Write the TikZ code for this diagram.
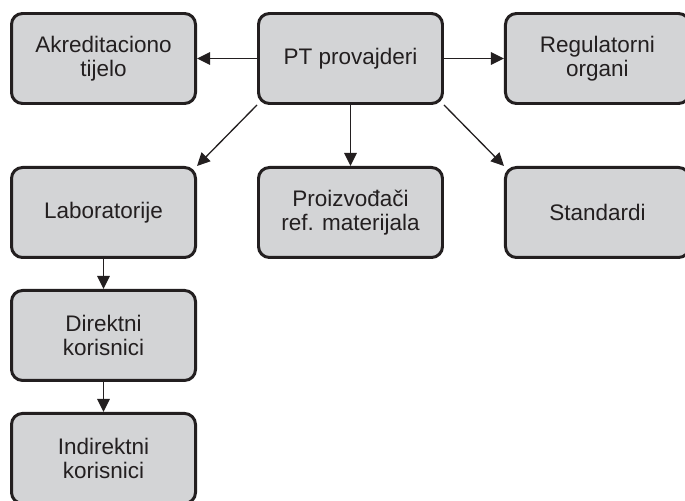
\documentclass[tikz,border=0pt]{standalone}
\usepackage{fontspec}
\setmainfont{Liberation Sans}
\usetikzlibrary{arrows.meta,positioning}
\definecolor{boxgray}{RGB}{211,212,214}
\definecolor{inkdark}{RGB}{35,31,32}

\begin{document}
\begin{tikzpicture}[
  box/.style={draw=inkdark, line width=1.7pt, fill=boxgray, rounded corners=2.2mm,
    minimum width=36.8mm, minimum height=18mm, align=center, text=inkdark,
    font=\fontsize{12.8}{14}\selectfont},
  node distance=12.2mm and 12mm,
  >={Triangle[length=2.6mm,width=2.5mm]},
  line width=0.75pt
]
\useasboundingbox (0,0) rectangle (13.7,-10.02);
\node[box] at (7.01,-1.17) (pt) {PT provajderi};
\node[box, left=of pt] (akr) {Akreditaciono\\tijelo};
\node[box, right=of pt] (reg) {Regulatorni\\organi};
\node[box, below=of pt] (proiz) {Proizvođači\\ref. materijala};
\node[box, below=of akr] (lab) {Laboratorije};
\node[box, below=of reg] (std) {Standardi};
\node[box, below=6mm of lab] (dir) {Direktni\\korisnici};
\node[box, below=6mm of dir] (ind) {Indirektni\\korisnici};
\draw[->, inkdark] (pt) -- (akr);
\draw[->, inkdark] (pt) -- (reg);
\draw[->, inkdark] (pt) -- (proiz);
\draw[->, inkdark] (pt.south west) -- (lab.north east);
\draw[->, inkdark] (pt.south east) -- (std.north west);
\draw[->, inkdark] (lab) -- (dir);
\draw[->, inkdark] (dir) -- (ind);
\end{tikzpicture}
\end{document}
